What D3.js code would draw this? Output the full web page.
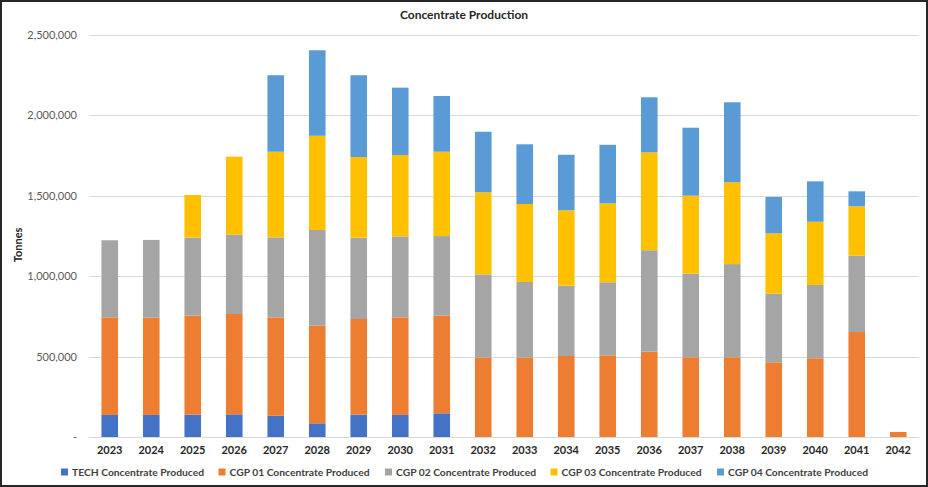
<!DOCTYPE html>
<html>
<head>
<meta charset="utf-8">
<script src="https://cdn.jsdelivr.net/npm/d3@7"></script>
<style>
  html, body { margin: 0; padding: 0; background: #fff; }
  svg { display: block; }
</style>
</head>
<body>
<svg id="chart" width="928" height="487"></svg>
<script>
const years = ["2023","2024","2025","2026","2027","2028","2029","2030","2031","2032","2033","2034","2035","2036","2037","2038","2039","2040","2041","2042"];
const seriesNames = ["TECH Concentrate Produced","CGP 01 Concentrate Produced","CGP 02 Concentrate Produced","CGP 03 Concentrate Produced","CGP 04 Concentrate Produced"];
const seriesColors = ["#4472C4","#ED7D31","#A5A5A5","#FFC000","#5B9BD5"];
const tech  = [137000,137000,139000,141000,132000,85000,139000,137000,147000,0,0,0,0,0,0,0,0,0,0,0];
const cgp01 = [606000,604000,615000,623000,611000,606000,594000,606000,607000,493000,493000,503000,507000,530000,495000,495000,464000,489000,652000,31000];
const cgp02 = [479000,483000,484000,493000,497000,595000,505000,503000,494000,517000,470000,437000,454000,630000,519000,579000,426000,455000,474000,0];
const cgp03 = [0,0,265000,484000,532000,585000,501000,505000,524000,510000,484000,468000,490000,608000,485000,508000,375000,393000,307000,0];
const cgp04 = [0,0,0,0,475000,531000,508000,419000,346000,376000,371000,345000,364000,342000,422000,497000,226000,251000,93000,0];
const yTicks = [0,500000,1000000,1500000,2000000,2500000];
const titleText = "Concentrate Production";
const yAxisTitle = "Tonnes";

(function () {
const seriesValues = [tech, cgp01, cgp02, cgp03, cgp04];
const rows = years.map((yr, i) => {
  const r = { year: yr };
  seriesNames.forEach((s, k) => r[s] = seriesValues[k][i]);
  return r;
});
const stacked = d3.stack().keys(seriesNames)(rows);

const svg = d3.select("#chart");
const W = 928, H = 487;
const mLeft = 89, mRight = 919, mTop = 34.5, mBottom = 437;
const font = "Lato, 'Open Sans', sans-serif";

svg.append("rect").attr("x",0).attr("y",0).attr("width",W).attr("height",H).attr("fill","#fff");

const x = d3.scaleBand().domain(years).range([mLeft, mRight]).paddingInner(0.6).paddingOuter(0.3);
const y = d3.scaleLinear().domain([0, 2500000]).range([mBottom, mTop]);

// gridlines
svg.append("g").selectAll("line").data(yTicks).join("line")
  .attr("x1", mLeft).attr("x2", mRight)
  .attr("y1", d => Math.round(y(d)) + 0.5).attr("y2", d => Math.round(y(d)) + 0.5)
  .attr("stroke", "#d9d9d9").attr("stroke-width", 1);

// y axis labels
const yAxis = d3.axisLeft(y).tickValues(yTicks).tickSize(0).tickPadding(0)
  .tickFormat(d => d === 0 ? "-" : d3.format(",")(d));
const ya = svg.append("g").attr("transform", `translate(${mLeft - 12},0)`).call(yAxis);
ya.select(".domain").remove();
ya.selectAll("text").attr("font-family", font).attr("font-size", 11).attr("fill", "#595959");

// bars
svg.append("g").selectAll("g").data(stacked).join("g")
  .attr("fill", (d, i) => seriesColors[i])
  .selectAll("rect").data(d => d).join("rect")
  .attr("x", d => x(d.data.year))
  .attr("width", x.bandwidth())
  .attr("y", d => y(d[1]))
  .attr("height", d => Math.max(0, y(d[0]) - y(d[1])));

// x axis labels
const xAxis = d3.axisBottom(x).tickSize(0).tickPadding(0);
const xa = svg.append("g").attr("transform", `translate(0,${mBottom + 9})`).call(xAxis);
xa.select(".domain").remove();
xa.selectAll("text").attr("font-family", font).attr("font-size", 11).attr("font-weight", "bold").attr("fill", "#262626");

// title
svg.append("text").attr("x", 464).attr("y", 19).attr("text-anchor", "middle")
  .attr("font-family", font).attr("font-size", 12).attr("font-weight", "bold").attr("fill", "#262626")
  .text(titleText);

// y axis title
svg.append("text").attr("transform", "translate(22,245) rotate(-90)").attr("text-anchor", "middle")
  .attr("font-family", font).attr("font-size", 11).attr("font-weight", "bold").attr("fill", "#262626")
  .text(yAxisTitle);

// legend
const legendX = [61, 218.5, 385, 550.5, 717];
const lg = svg.append("g").selectAll("g").data(seriesNames).join("g")
  .attr("transform", (d, i) => `translate(${legendX[i]},472)`);
lg.append("rect").attr("x", 0).attr("y", -3.5).attr("width", 7).attr("height", 7)
  .attr("fill", (d, i) => seriesColors[i]);
lg.append("text").attr("x", 11).attr("y", 0).attr("dy", "0.35em")
  .attr("font-family", font).attr("font-size", 10.3).attr("font-weight", "bold").attr("fill", "#404040")
  .text(d => d);

// border
svg.append("rect").attr("x", 1).attr("y", 1).attr("width", W - 2).attr("height", H - 2)
  .attr("fill", "none").attr("stroke", "#262626").attr("stroke-width", 2);
})();
</script>
</body>
</html>
